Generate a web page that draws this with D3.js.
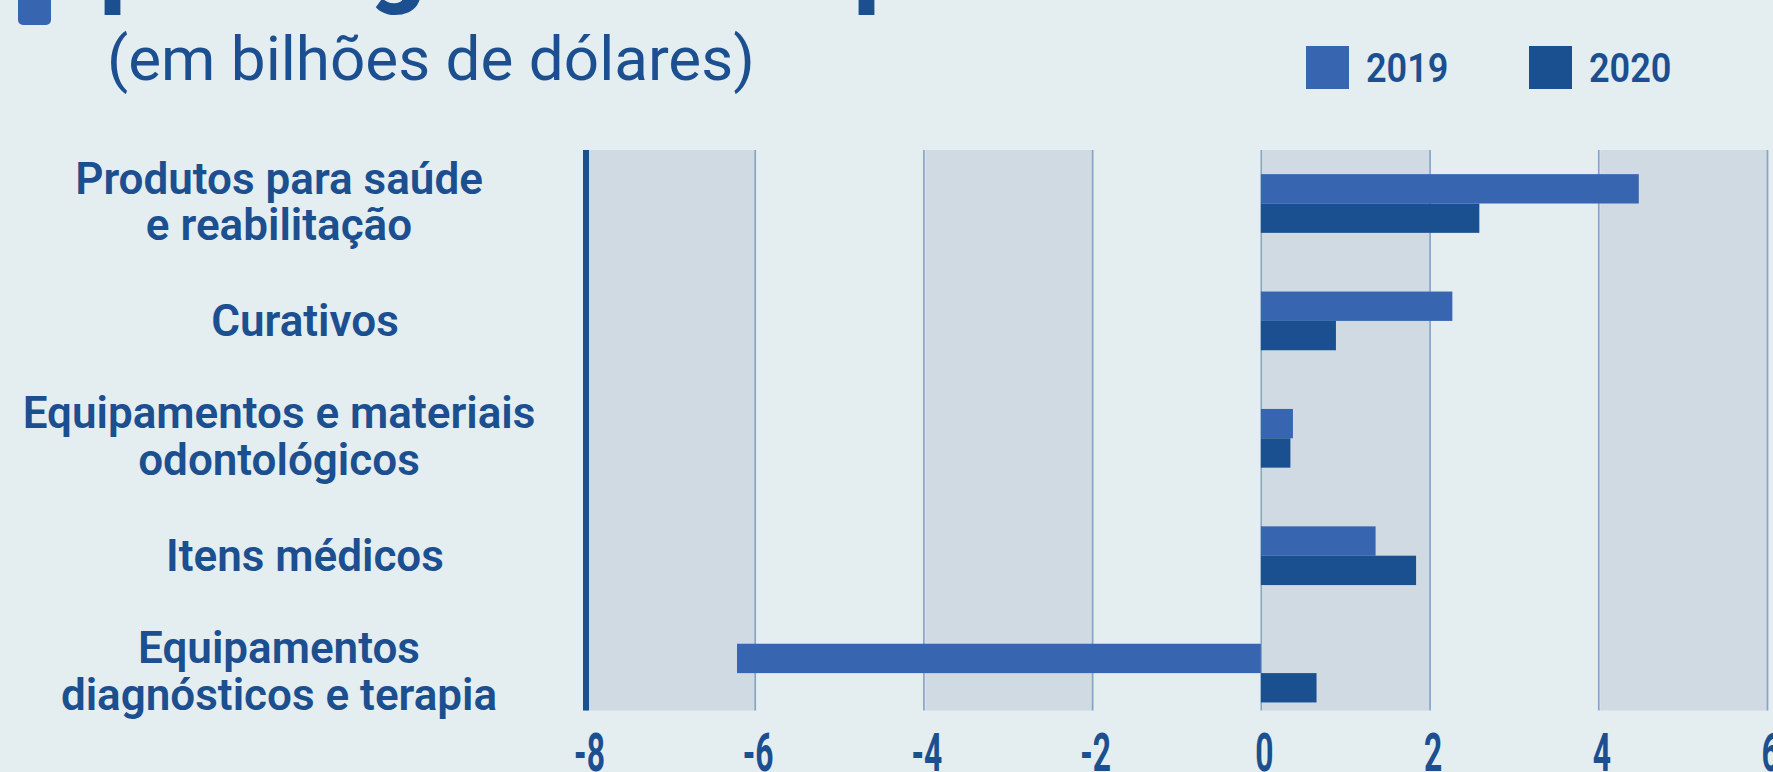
<!DOCTYPE html>
<html>
<head>
<meta charset="utf-8">
<script src="https://cdn.jsdelivr.net/npm/d3@7"></script>
<style>
  html, body { margin: 0; padding: 0; background: #e4edf0; }
  svg { display: block; }
  text { font-family: Roboto, "Noto Sans", sans-serif; }
</style>
</head>
<body>
<svg id="chart" width="1773" height="772"></svg>
<script>
// data
const categories = [
    "Produtos para saúde\ne reabilitação",
    "Curativos",
    "Equipamentos e materiais\nodontológicos",
    "Itens médicos",
    "Equipamentos\ndiagnósticos e terapia"
];
const years = ["2019", "2020"];
const values2019 = [4.48, 2.27, 0.38, 1.36, -6.21];
const values2020 = [2.59, 0.89, 0.35, 1.84, 0.66];
const xTicks = [-8, -6, -4, -2, 0, 2, 4, 6];

const titleText = "por segmento de produto";
const subtitleText = "(em bilhões de dólares)";

const W = 1773, H = 772;
const TEXT = "#1b4f8f";
const plotTop = 150, plotBottom = 710.5;

const svg = d3.select("#chart");
svg.append("rect").attr("width", W).attr("height", H).attr("fill", "#e4edf0");

const x = d3.scaleLinear().domain([-8, 6]).range([586, 1767]);
const y = d3.scaleBand().domain(categories).range([144.8, 731.8])
    .paddingInner(0.5).paddingOuter(0.25);
const ySub = d3.scaleBand().domain(years).range([0, y.bandwidth()]);
const color = d3.scaleOrdinal().domain(years).range(["#3765b0", "#1a5090"]);

const rows = categories.map((c, i) => ({ cat: c, "2019": values2019[i], "2020": values2020[i] }));

// Title (mostly cut off above the frame) + decoration
svg.append("rect")
    .attr("x", 18).attr("y", -40).attr("width", 33).attr("height", 65)
    .attr("rx", 5).attr("fill", "#3765b0");
svg.append("text")
    .attr("x", 100).attr("y", -5)
    .attr("fill", TEXT).attr("font-size", 96).attr("font-weight", 900)
    .text(titleText);
svg.append("text")
    .attr("x", 107).attr("y", 80)
    .attr("fill", TEXT).attr("font-size", 62).attr("font-weight", 400)
    .text(subtitleText);

// Legend
const legend = svg.append("g");
[[years[0], 1306], [years[1], 1529]].forEach(([yr, lx]) => {
    legend.append("rect")
        .attr("x", lx).attr("y", 46).attr("width", 43).attr("height", 43)
        .attr("fill", color(yr));
    legend.append("text")
        .attr("transform", `translate(${lx + 60},82) scale(0.88,1)`)
        .attr("fill", TEXT).attr("font-size", 41).attr("font-weight", 600)
        .text(yr);
});

// Alternating bands
const bandPairs = d3.pairs(xTicks).filter((_, i) => i % 2 === 0);
svg.append("g").selectAll("rect")
    .data(bandPairs).join("rect")
    .attr("x", d => x(d[0]) + 2)
    .attr("width", d => x(d[1]) - x(d[0]) - 2)
    .attr("y", plotTop).attr("height", plotBottom - plotTop)
    .attr("fill", "#cfdae3");

// Grid lines
svg.append("g").attr("transform", `translate(0,${plotBottom})`)
    .call(d3.axisBottom(x).tickValues(xTicks).tickSize(-(plotBottom - plotTop)).tickFormat(""))
    .call(g => g.select(".domain").remove())
    .call(g => g.selectAll("line").attr("stroke", "#89a3c6").attr("stroke-width", 1.7));

// Bars
const groups = svg.append("g").selectAll("g")
    .data(rows).join("g")
    .attr("transform", d => `translate(0,${y(d.cat)})`);
groups.selectAll("rect")
    .data(d => years.map(yr => ({ yr, v: d[yr] })))
    .join("rect")
    .attr("x", d => x(Math.min(0, d.v)))
    .attr("width", d => Math.abs(x(d.v) - x(0)))
    .attr("y", d => ySub(d.yr))
    .attr("height", ySub.bandwidth())
    .attr("fill", d => color(d.yr));

// Left axis line
svg.append("line")
    .attr("x1", x(-8)).attr("x2", x(-8))
    .attr("y1", plotTop).attr("y2", plotBottom)
    .attr("stroke", "#1a5090").attr("stroke-width", 6);

// X tick labels (condensed)
svg.append("g").attr("transform", "translate(3,0)")
    .call(d3.axisBottom(x).tickValues(xTicks).tickSize(0).tickFormat(d => String(d)))
    .call(g => g.select(".domain").remove())
    .call(g => g.selectAll("text")
        .attr("y", 771).attr("dy", 0)
        .attr("transform", "scale(0.6,1)")
        .attr("fill", TEXT).attr("font-size", 53).attr("font-weight", 700)
        .attr("font-family", "Roboto, sans-serif"));

// Category labels
const labels = svg.append("g").selectAll("text")
    .data(categories).join("text")
    .attr("text-anchor", "middle")
    .attr("fill", TEXT).attr("font-size", 44).attr("font-weight", 600);
labels.each(function (c) {
    const lines = c.split("\n");
    const cy = y(c) + y.bandwidth() / 2;
    const cx = lines.length > 1 ? 279 : 305;
    const t = d3.select(this);
    lines.forEach((ln, i) => {
        t.append("tspan")
            .attr("x", cx)
            .attr("y", lines.length > 1 ? cy - 10 + i * 46.7 : cy + 15)
            .text(ln);
    });
});
</script>
</body>
</html>
